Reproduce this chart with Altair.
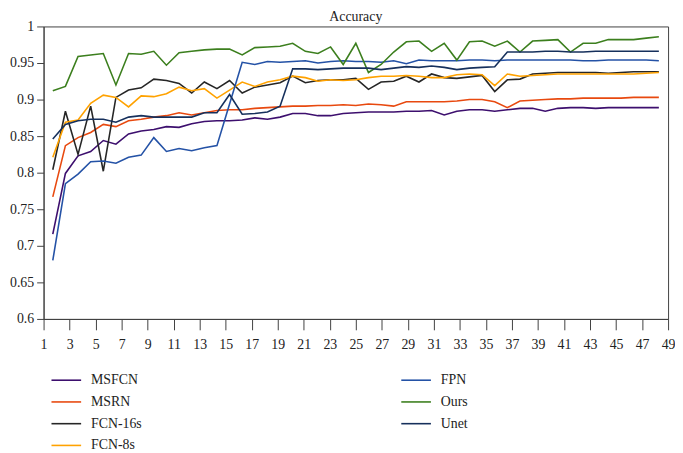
import altair as alt
import pandas as pd

epochs = list(range(1, 50))
x_tick_labels = list(range(1, 50, 2))
y_ticks = [0.6, 0.65, 0.7, 0.75, 0.8, 0.85, 0.9, 0.95, 1.0]

series_names = ["MSFCN", "MSRN", "FCN-16s", "FCN-8s", "FPN", "Ours", "Unet"]
series_colors = ["#3D0F6E", "#E8490F", "#262626", "#FFA200", "#2452A6", "#3C7F1E", "#16305C"]

msfcn = [0.716, 0.799, 0.823, 0.829, 0.844, 0.839, 0.853, 0.857, 0.859, 0.863,
         0.862, 0.867, 0.870, 0.871, 0.871, 0.872, 0.875, 0.873, 0.876, 0.881,
         0.881, 0.878, 0.878, 0.881, 0.882, 0.883, 0.883, 0.883, 0.884, 0.884,
         0.885, 0.879, 0.884, 0.886, 0.886, 0.884, 0.886, 0.888, 0.888, 0.884,
         0.888, 0.889, 0.889, 0.888, 0.889, 0.889, 0.889, 0.889, 0.889]
msrn = [0.767, 0.837, 0.848, 0.855, 0.866, 0.863, 0.871, 0.873, 0.876, 0.878,
        0.882, 0.879, 0.882, 0.885, 0.886, 0.886, 0.888, 0.889, 0.890, 0.891,
        0.891, 0.892, 0.892, 0.893, 0.892, 0.894, 0.893, 0.891, 0.897, 0.897,
        0.897, 0.897, 0.898, 0.900, 0.900, 0.897, 0.889, 0.898, 0.899, 0.900,
        0.901, 0.901, 0.902, 0.902, 0.902, 0.902, 0.903, 0.903, 0.903]
fcn16s = [0.804, 0.884, 0.825, 0.891, 0.802, 0.903, 0.913, 0.916, 0.928, 0.926,
          0.922, 0.909, 0.924, 0.915, 0.926, 0.909, 0.917, 0.920, 0.923, 0.932,
          0.923, 0.926, 0.927, 0.927, 0.929, 0.914, 0.924, 0.925, 0.932, 0.924,
          0.935, 0.930, 0.929, 0.931, 0.933, 0.911, 0.927, 0.928, 0.935, 0.936,
          0.937, 0.937, 0.937, 0.937, 0.936, 0.937, 0.938, 0.938, 0.938]
fcn8s = [0.821, 0.869, 0.872, 0.895, 0.906, 0.903, 0.890, 0.905, 0.904, 0.908,
         0.917, 0.912, 0.915, 0.902, 0.913, 0.924, 0.918, 0.924, 0.927, 0.932,
         0.930, 0.925, 0.927, 0.926, 0.927, 0.930, 0.932, 0.932, 0.933, 0.932,
         0.930, 0.930, 0.934, 0.935, 0.934, 0.919, 0.935, 0.932, 0.933, 0.934,
         0.935, 0.935, 0.935, 0.935, 0.935, 0.935, 0.935, 0.936, 0.937]
fpn = [0.680, 0.785, 0.798, 0.815, 0.816, 0.813, 0.821, 0.824, 0.848, 0.829,
       0.833, 0.830, 0.834, 0.837, 0.894, 0.951, 0.948, 0.952, 0.951, 0.952,
       0.953, 0.950, 0.952, 0.953, 0.952, 0.952, 0.951, 0.953, 0.949, 0.954,
       0.953, 0.953, 0.953, 0.954, 0.954, 0.953, 0.954, 0.954, 0.954, 0.954,
       0.954, 0.954, 0.953, 0.953, 0.954, 0.954, 0.954, 0.954, 0.953]
ours = [0.912, 0.918, 0.959, 0.961, 0.963, 0.920, 0.963, 0.962, 0.966, 0.947,
        0.964, 0.966, 0.968, 0.969, 0.969, 0.961, 0.971, 0.972, 0.973, 0.977,
        0.966, 0.963, 0.972, 0.948, 0.977, 0.937, 0.948, 0.965, 0.979, 0.980,
        0.966, 0.977, 0.954, 0.979, 0.980, 0.973, 0.980, 0.965, 0.980, 0.981,
        0.982, 0.965, 0.977, 0.977, 0.982, 0.982, 0.982, 0.984, 0.986]
unet = [0.846, 0.866, 0.871, 0.873, 0.873, 0.869, 0.876, 0.878, 0.876, 0.876,
        0.876, 0.876, 0.882, 0.882, 0.907, 0.880, 0.881, 0.883, 0.891, 0.942,
        0.942, 0.941, 0.942, 0.943, 0.943, 0.943, 0.941, 0.943, 0.945, 0.944,
        0.946, 0.944, 0.941, 0.943, 0.944, 0.945, 0.965, 0.965, 0.965, 0.966,
        0.966, 0.965, 0.965, 0.966, 0.966, 0.966, 0.966, 0.966, 0.966]

values = {"MSFCN": msfcn, "MSRN": msrn, "FCN-16s": fcn16s, "FCN-8s": fcn8s,
          "FPN": fpn, "Ours": ours, "Unet": unet}

rows = []
for name in series_names:
    for e, v in zip(epochs, values[name]):
        rows.append({"epoch": e, "accuracy": v, "model": name})
df = pd.DataFrame(rows)
ticks_df = pd.DataFrame({"tick": x_tick_labels})

FONT = "Liberation Serif"

axis_layer = alt.Chart(ticks_df).mark_point(opacity=0).encode(
    x=alt.X("tick:Q",
            scale=alt.Scale(domain=[1, 49], nice=False, zero=False),
            axis=alt.Axis(values=x_tick_labels, title=None, grid=False,
                          tickSize=11, labelPadding=8, labelFontSize=14,
                          labelFont=FONT, labelColor="#222222",
                          domainColor="#404040", tickColor="#404040",
                          labelFlush=False, orient="bottom")),
)

lines = alt.Chart(df).mark_line(strokeWidth=1.6).encode(
    x=alt.X("epoch:Q", scale=alt.Scale(domain=[0.27, 49.73], nice=False, zero=False),
            axis=None),
    y=alt.Y("accuracy:Q",
            scale=alt.Scale(domain=[0.6, 1.0], nice=False, zero=False),
            axis=alt.Axis(values=y_ticks, format="~g", title=None, grid=False,
                          tickSize=7, labelPadding=3, labelFontSize=14,
                          labelFont=FONT, labelColor="#222222",
                          domainColor="#404040", tickColor="#404040")),
    color=alt.Color("model:N",
                    scale=alt.Scale(domain=series_names, range=series_colors),
                    legend=alt.Legend(title=None, orient="none", legendX=12, legendY=347,
                                      columns=2, columnPadding=258, rowPadding=4,
                                      symbolType="M-1.5,0H1.5", symbolSize=400,
                                      symbolStrokeWidth=1.6, labelFont=FONT,
                                      labelFontSize=14, labelColor="#222222",
                                      labelOffset=14)),
)

chart = alt.layer(axis_layer, lines).resolve_scale(x="independent").properties(
    width=632,
    height=296,
    title=alt.TitleParams("Accuracy", font=FONT, fontSize=14, fontWeight="normal",
                          color="#222222", offset=-4),
    autosize=alt.AutoSizeParams(type="none"),
    padding={"left": 36, "top": 16, "right": 7, "bottom": 133},
).configure_view(stroke="#404040", strokeWidth=1)

chart.save("out.html", embed_options={"renderer": "svg", "actions": False})
